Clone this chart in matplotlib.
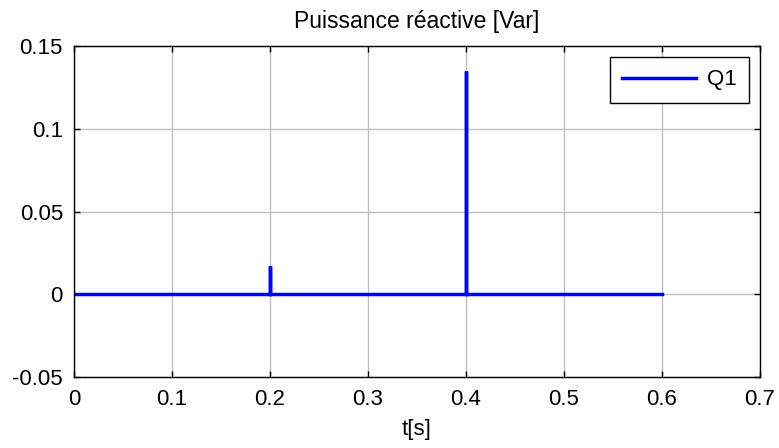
import matplotlib
matplotlib.use("Agg")
import matplotlib.pyplot as plt
import numpy as np

plt.rcParams['font.family'] = ['Liberation Sans', 'DejaVu Sans']

t = [0.0, 0.2, 0.2, 0.2005, 0.2005, 0.4, 0.4, 0.4005, 0.4005, 0.6]
q1 = [0.0, 0.0, 0.017, 0.017, 0.0, 0.0, 0.135, 0.135, 0.0, 0.0]

xticks = [0, 0.1, 0.2, 0.3, 0.4, 0.5, 0.6, 0.7]
xlabels = ['0', '0.1', '0.2', '0.3', '0.4', '0.5', '0.6', '0.7']
yticks = [-0.05, 0, 0.05, 0.1, 0.15]
ylabels = ['-0.05', '0', '0.05', '0.1', '0.15']

fig = plt.figure(figsize=(7.79, 4.48), dpi=100)
ax = fig.add_axes([0.095, 0.1585, 0.8806, 0.7385])
ax.plot(t, q1, color='#0000ff', lw=2.5, label='Q1', solid_joinstyle='miter')
ax.set_xlim(0, 0.7)
ax.set_ylim(-0.05, 0.15)
ax.set_xticks(xticks)
ax.set_xticklabels(xlabels)
ax.set_yticks(yticks)
ax.set_yticklabels(ylabels)
ax.grid(True, color='#c0c0c0', lw=1, ls='-')
ax.set_axisbelow(True)
ax.tick_params(direction='in', top=True, right=True, labelsize=16, length=4, width=1)
ax.tick_params(axis='y', pad=8)
ax.tick_params(axis='x', pad=9)
for s in ax.spines.values():
    s.set_linewidth(1)
ax.set_title('Puissance réactive [Var]', fontsize=16.5, pad=13)
ax.set_xlabel('t[s]', fontsize=16, labelpad=6)
leg = ax.legend(loc='upper right', fontsize=16, frameon=True, fancybox=False,
                edgecolor='black', framealpha=1, handlelength=3.3,
                borderaxespad=0.5, borderpad=0.55, handletextpad=0.5)
leg.get_frame().set_linewidth(1)
fig.savefig('out.png', dpi=100)
